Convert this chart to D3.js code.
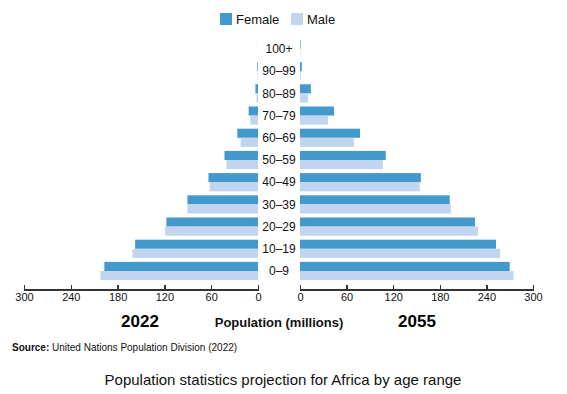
<!DOCTYPE html>
<html lang="en">
<head>
  <meta charset="UTF-8">
  <title>Africa population pyramid</title>
  <script src="https://cdn.jsdelivr.net/npm/d3@7"></script>
  <style>
    body { margin: 0; background: #fff; }
    svg { font-family: "Liberation Sans", Arial, sans-serif; }
    .axis path, .axis line { stroke: #333; stroke-width: 1.3; shape-rendering: crispEdges; }
    .axis text { font-size: 11px; fill: #111; }
    .age-label { font-size: 12px; fill: #111; }
  </style>
</head>
<body>
<svg width="567" height="394"></svg>
<script>
  // age groups, top to bottom
  const ages = ['100+', '90–99', '80–89', '70–79', '60–69', '50–59', '40–49', '30–39', '20–29', '10–19', '0–9'];

  // 2022, millions
  const female2022 = [0.1, 0.9, 3.3, 12, 26.5, 43, 63.5, 90.5, 117.5, 157.5, 197];
  const male2022   = [0.05, 0.5, 1.9, 9.8, 22.3, 40.4, 62, 90.5, 119, 161, 202];

  // 2055, millions
  const female2055 = [0.7, 2.3, 14, 43.8, 77.3, 110.4, 155.6, 192.8, 225.4, 252.4, 270];
  const male2055   = [0.3, 0.9, 10.2, 35.9, 69.4, 106.7, 154.2, 194.2, 229.2, 257.6, 275];

  const axisTicks = [0, 60, 120, 180, 240, 300];

  const colors = { female: '#4398cc', male: '#c1d5ee' };

  const svg = d3.select('svg');

  const y = d3.scaleBand()
    .domain(ages)
    .range([37.9, 282.1])
    .paddingInner(0.18)
    .paddingOuter(0.09);

  const xLeft = d3.scaleLinear().domain([0, 300]).range([258, 24]);
  const xRight = d3.scaleLinear().domain([0, 300]).range([300, 533]);

  const bw = y.bandwidth() / 2;

  function drawSide(xs, fem, mal, left) {
    const g = svg.append('g');
    const rows = ages.map((a, i) => ({ age: a, f: fem[i], m: mal[i] }));
    g.selectAll('rect.f').data(rows).join('rect')
      .attr('class', 'f')
      .attr('x', d => left ? xs(d.f) : xs(0))
      .attr('width', d => Math.abs(xs(d.f) - xs(0)))
      .attr('y', d => y(d.age))
      .attr('height', bw)
      .attr('fill', colors.female);
    g.selectAll('rect.m').data(rows).join('rect')
      .attr('class', 'm')
      .attr('x', d => left ? xs(d.m) : xs(0))
      .attr('width', d => Math.abs(xs(d.m) - xs(0)))
      .attr('y', d => y(d.age) + bw)
      .attr('height', bw)
      .attr('fill', colors.male);
  }

  drawSide(xLeft, female2022, male2022, true);
  drawSide(xRight, female2055, male2055, false);

  // age labels in the middle
  svg.append('g').selectAll('text').data(ages).join('text')
    .attr('class', 'age-label')
    .attr('x', 279)
    .attr('y', d => y(d) + y.bandwidth() / 2)
    .attr('dy', '0.35em')
    .attr('text-anchor', 'middle')
    .text(d => d);

  // axes, ticks point up
  [xLeft, xRight].forEach(xs => {
    svg.append('g')
      .attr('class', 'axis')
      .attr('transform', 'translate(0,289.5)')
      .call(d3.axisBottom(xs).tickValues(axisTicks).tickSize(-5).tickPadding(4))
      .call(g => g.selectAll('.tick text').attr('y', 4).attr('dy', '0.71em'));
  });

  // year labels and axis title
  svg.append('text').attr('x', 140).attr('y', 327).attr('text-anchor', 'middle')
    .style('font-size', '17px').style('font-weight', 'bold').text('2022');
  svg.append('text').attr('x', 417).attr('y', 327).attr('text-anchor', 'middle')
    .style('font-size', '17px').style('font-weight', 'bold').text('2055');
  svg.append('text').attr('x', 279).attr('y', 327).attr('text-anchor', 'middle')
    .style('font-size', '13px').style('font-weight', 'bold').style('fill', '#111')
    .text('Population (millions)');

  // legend
  const legend = [
    { name: 'Female', c: colors.female, x: 220 },
    { name: 'Male', c: colors.male, x: 291 }
  ];
  const lg = svg.append('g').selectAll('g').data(legend).join('g')
    .attr('transform', d => `translate(${d.x},13)`);
  lg.append('rect').attr('width', 12).attr('height', 12).attr('fill', d => d.c);
  lg.append('text').attr('x', 16).attr('y', 6).attr('dy', '0.35em')
    .style('font-size', '13px').style('fill', '#111').text(d => d.name);

  // source
  const src = svg.append('text').attr('x', 12).attr('y', 351).style('font-size', '10px').style('fill', '#111');
  src.append('tspan').style('font-weight', 'bold').text('Source:');
  src.append('tspan').text(' United Nations Population Division (2022)');

  // title
  svg.append('text').attr('x', 283).attr('y', 385).attr('text-anchor', 'middle')
    .style('font-size', '15px').style('fill', '#111')
    .text('Population statistics projection for Africa by age range');
</script>
</body>
</html>
